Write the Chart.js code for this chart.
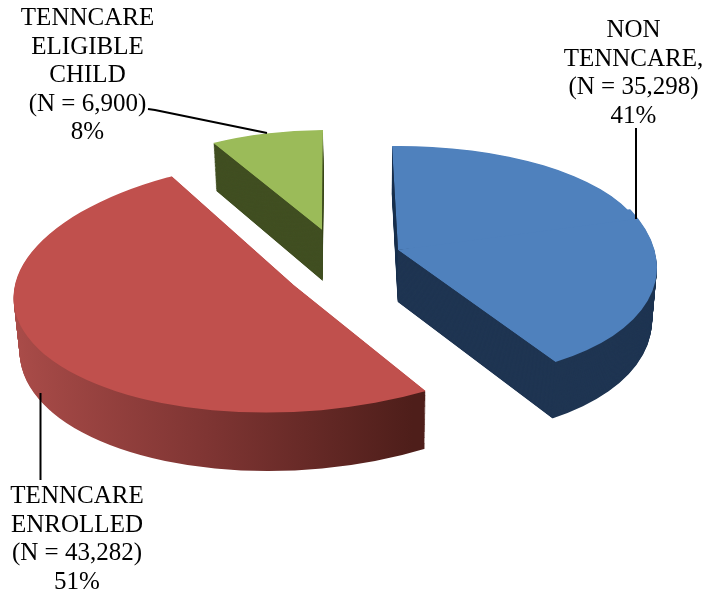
<!DOCTYPE html>
<html>
<head>
<meta charset="utf-8">
<title>TennCare pie</title>
<script src="https://cdn.jsdelivr.net/npm/chart.js@4"></script>
<style>
    html, body { margin: 0; padding: 0; background: #ffffff; }
    canvas { display: block; }
</style>
</head>
<body>
<canvas id="myChart" width="706" height="591"></canvas>
<script>
var categories = ["NON TENNCARE", "TENNCARE ENROLLED", "TENNCARE ELIGIBLE CHILD"];
var counts = [35298, 43282, 6900];
var labelLines = [
    ["NON", "TENNCARE,", "(N = 35,298)", "41%"],
    ["TENNCARE", "ENROLLED", "(N = 43,282)", "51%"],
    ["TENNCARE", "ELIGIBLE", "CHILD", "(N = 6,900)", "8%"]
];
var topColours = ["#4f81bd", "#c0504d", "#9bbb59"];
var wallColours = [["#1f3552"], ["#aa4c49", "#7f3533", "#4e1e1a"], ["#414f22"]];

// where each label and its leader line sit
var labelPlace = [{x:633.5, y:37}, {x:77, y:503}, {x:87.5, y:25}];
var leaders = [
    [[636, 128], [636, 219]],
    [[40.5, 393], [40.5, 480]],
    [[148, 109], [155, 110], [267, 133]]
];

// the pie is tilted and pulled apart: every slice gets its own flattening.
// ax,ay = where the slice tip lands, mx/my = where a radius along x/y lands.
// the blue one is split in two at its middle angle to fake the perspective
var tilts = [
    [{ax:398, ay:250, mx:[248.8, -3], my:[6, 104]},
     {ax:398, ay:250, mx:[257.5, 3.9], my:[27.5, 128.8]}],
    [{ax:294, ay:285, mx:[280, -5.5], my:[-16, 127.5]}],
    [{ax:322, ay:230, mx:[226, -0.8], my:[-1, 100]}]
];

// how the bottom of the pie differs from the top
var depth = {layers:60, drop:42, growY:0.04, shrinkX:0.017, centreX:370};

function wallFill(ctx, arc, i, tilt) {
    var stops = wallColours[i];
    if(stops.length == 1) {
        return stops[0];
    }
    var r = arc.outerRadius;
    var x0 = arc.x + (14 - tilt.ax) / tilt.mx[0] * r;
    var x1 = arc.x + (427 - tilt.ax) / tilt.mx[0] * r;
    var g = ctx.createLinearGradient(x0, 0, x1, 0);
    for(var s = 0; s < stops.length; s++) {
        g.addColorStop(s / (stops.length - 1), stops[s]);
    }
    return g;
}

function drawPiece(ctx, arc, tilt, from, to, colour, t) {
    var r = arc.outerRadius;
    ctx.save();
    ctx.transform(1 - depth.shrinkX * t, 0, 0, 1 + depth.growY * t, depth.shrinkX * t * depth.centreX, depth.drop * t);
    ctx.translate(tilt.ax, tilt.ay);
    ctx.transform(tilt.mx[0] / r, tilt.mx[1] / r, tilt.my[0] / r, tilt.my[1] / r, 0, 0);
    ctx.translate(-arc.x, -arc.y);

    ctx.beginPath();
    ctx.moveTo(arc.x, arc.y);
    ctx.arc(arc.x, arc.y, r * 1.2, from, to);
    ctx.closePath();
    ctx.clip();

    var fill = colour == null ? wallFill(ctx, arc, arc.$sliceIndex, tilt) : colour;
    var keep = arc.options;
    arc.options = Object.assign({}, keep, {backgroundColor:fill, borderWidth:0});
    arc.draw(ctx);
    arc.options = keep;
    ctx.restore();
}

function drawSlice(ctx, arc, i, colour, t) {
    var pieces = tilts[i];
    var step = (arc.endAngle - arc.startAngle) / pieces.length;
    // last piece first and running under the one before it, so no seam shows
    for(var p = pieces.length - 1; p >= 0; p--) {
        var from = arc.startAngle + step * p - (p > 0 ? 0.08 : 0);
        var to = arc.startAngle + step * (p + 1);
        drawPiece(ctx, arc, pieces[p], from, to, colour, t);
    }
}

function drawLabels(ctx) {
    ctx.save();
    ctx.strokeStyle = "#000000";
    ctx.lineWidth = 2;
    for(var i = 0; i < leaders.length; i++) {
        ctx.beginPath();
        ctx.moveTo(leaders[i][0][0], leaders[i][0][1]);
        for(var j = 1; j < leaders[i].length; j++) {
            ctx.lineTo(leaders[i][j][0], leaders[i][j][1]);
        }
        ctx.stroke();
    }
    ctx.fillStyle = "#000000";
    ctx.font = '25px "Liberation Serif"';
    ctx.textAlign = "center";
    ctx.textBaseline = "alphabetic";
    for(var k = 0; k < labelLines.length; k++) {
        for(var n = 0; n < labelLines[k].length; n++) {
            ctx.fillText(labelLines[k][n], labelPlace[k].x, labelPlace[k].y + n * 28.5);
        }
    }
    ctx.restore();
}

var tiltedPie = {
    id: "tiltedPie",
    beforeDatasetDraw: function(chart, args) {
        var ctx = chart.ctx;
        var arcs = args.meta.data;
        for(var i = 0; i < arcs.length; i++) {
            arcs[i].$sliceIndex = i;
            // stack up the wall from the bottom, top face goes last
            for(var l = depth.layers; l > 0; l--) {
                drawSlice(ctx, arcs[i], i, null, l / depth.layers);
            }
            drawSlice(ctx, arcs[i], i, topColours[i], 0);
        }
        return false;
    },
    afterDraw: function(chart) {
        drawLabels(chart.ctx);
    }
};

window.onload = function() {
    var ctx = document.getElementById("myChart");
    var myChart = new Chart(ctx, {
        type: "pie",
        data: {
            labels: categories,
            datasets: [{
                data: counts,
                backgroundColor: topColours,
                borderWidth: 0
            }]
        },
        options: {
            responsive: false,
            animation: false,
            plugins: {
                legend: {display: false},
                tooltip: {enabled: false}
            }
        },
        plugins: [tiltedPie]
    });
};
</script>
</body>
</html>
